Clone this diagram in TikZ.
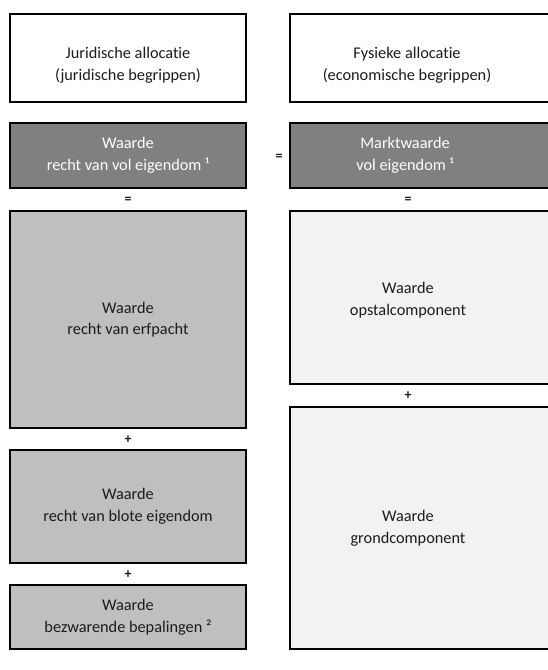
\documentclass[tikz,border=0pt]{standalone}
\usepackage{fontspec}
\setmainfont[Ligatures={NoCommon,NoRare}]{Carlito}
\definecolor{boxdark}{RGB}{128,128,128}
\definecolor{boxmid}{RGB}{191,191,191}
\definecolor{boxlight}{RGB}{242,242,242}
\definecolor{txtdark}{RGB}{28,28,28}

\begin{document}
\begin{tikzpicture}[x=1pt, y=-1pt,
  box/.style={rectangle, draw=black, line width=1.7pt, fill=#1, inner sep=0pt,
              minimum width=236pt},
  widebox/.style={box=#1, minimum width=266pt},
  lbl/.style={font=\fontsize{16.3}{21.7}\selectfont, align=center, text=txtdark},
  sign/.style={font=\fontsize{14}{14}\selectfont\bfseries, text=txtdark, inner sep=0pt},
]
  \useasboundingbox (0,0) rectangle (547,670);

  % kopjes
  \node[box=white, minimum height=88pt]      (jur)  at (128,58) {};
  \node[widebox=white, minimum height=88pt]  (fys)  at (423,58) {};
  \node[lbl, yshift=-7pt] (jurtxt) at (jur) {Juridische allocatie\\(juridische begrippen)};
  \node[lbl, yshift=-7pt] (fystxt) at (407,58) {Fysieke allocatie\\(economische begrippen)};

  % vol eigendom
  \node[box=boxdark, minimum height=65pt]     (volj) at (128,155.5) {};
  \node[widebox=boxdark, minimum height=65pt] (volf) at (423,155.5) {};
  \node[lbl, text=white] (voljtxt) at (volj) {Waarde\\recht van vol eigendom ¹};
  \node[lbl, text=white] (volftxt) at (405,155.5) {Marktwaarde\\vol eigendom ¹};

  % juridisch
  \node[box=boxmid, minimum height=217pt] (erfp)  at (128,319.5) {};
  \node[box=boxmid, minimum height=113pt] (blote) at (128,506.5) {};
  \node[box=boxmid, minimum height=64pt]  (bezw)  at (128,617) {};
  \node[lbl] (erfptxt)  at (erfp)  {Waarde\\recht van erfpacht};
  \node[lbl] (blotetxt) at (blote) {Waarde\\recht van blote eigendom};
  \node[lbl] (bezwtxt)  at (bezw)  {Waarde\\bezwarende bepalingen ²};

  % fysiek
  \node[widebox=boxlight, minimum height=173pt] (opstal) at (423,297.5) {};
  \node[widebox=boxlight, minimum height=242pt] (grond)  at (423,528) {};
  \node[lbl] (opstaltxt) at (408,300) {Waarde\\opstalcomponent};
  \node[lbl] (grondtxt)  at (408,528) {Waarde\\grondcomponent};

  % tekens
  \node[sign] (eqmid)  at (279,157) {=};
  \node[sign] (eqjur)  at (128,200) {=};
  \node[sign] (eqfys)  at (408,200) {=};
  \node[sign] (plusf)  at (408,396) {+};
  \node[sign] (plusj1) at (128,440) {+};
  \node[sign] (plusj2) at (128,575) {+};
\end{tikzpicture}
\end{document}
